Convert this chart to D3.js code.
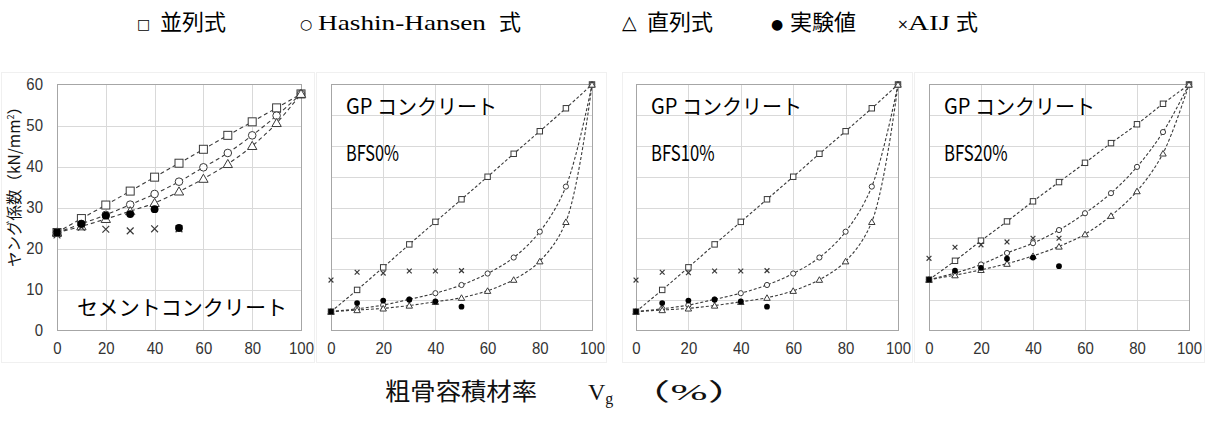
<!DOCTYPE html>
<html>
<head>
<meta charset="utf-8">
<script src="https://cdn.jsdelivr.net/npm/d3@7"></script>
<style>
  body { margin: 0; background: #fff; }
</style>
</head>
<body>
<svg id="drawing_region"></svg>
<script>
const width = 1209;
const height = 426;

// x values (粗骨容積材率 %)
const vg = [0, 10, 20, 30, 40, 50, 60, 70, 80, 90, 100];
const vgExp = [0, 10, 20, 30, 40, 50];
const xTicks = [0, 20, 40, 60, 80, 100];
const yTicks = [0, 10, 20, 30, 40, 50, 60];

// セメントコンクリート
const cementParallel = [23.9, 27.3, 30.6, 34.0, 37.4, 40.8, 44.2, 47.6, 50.9, 54.3, 57.7];
const cementHH = [23.9, 26.0, 28.2, 30.7, 33.3, 36.3, 39.8, 43.3, 47.6, 52.4, 57.7];
const cementSeries = [23.9, 25.4, 27.2, 29.1, 31.1, 33.9, 37.0, 40.6, 45.0, 50.6, 57.7];
const cementExp = [23.9, 26.0, 28.0, 28.4, 29.6, 25.0];
const cementAIJ = [23.3, 25.2, 24.7, 24.3, 24.8, 24.8];

// GP BFS0%
const bfs0Parallel = [4.6, 9.9, 15.4, 21.0, 26.5, 32.0, 37.5, 43.1, 48.6, 54.2, 60.0];
const bfs0HH = [4.6, 5.3, 6.2, 7.6, 9.1, 11.1, 13.9, 17.8, 24.1, 35.1, 60.0];
const bfs0Series = [4.6, 5.0, 5.4, 6.1, 7.0, 8.0, 9.7, 12.4, 16.9, 26.5, 60.0];
const bfs0Exp = [4.6, 6.7, 7.3, 7.5, 7.1, 5.8];
const bfs0AIJ = [12.3, 14.2, 14.0, 14.5, 14.5, 14.6];

// GP BFS10%
const bfs10Parallel = [4.6, 9.9, 15.4, 21.0, 26.5, 32.0, 37.5, 43.1, 48.6, 54.2, 60.0];
const bfs10HH = [4.6, 5.3, 6.2, 7.6, 9.1, 11.1, 13.9, 17.8, 24.1, 35.1, 60.0];
const bfs10Series = [4.6, 5.0, 5.4, 6.1, 7.0, 8.0, 9.7, 12.4, 16.9, 26.5, 60.0];
const bfs10Exp = [4.6, 6.7, 7.3, 7.5, 7.1, 5.8];
const bfs10AIJ = [12.3, 14.2, 14.1, 14.5, 14.5, 14.6];

// GP BFS20%
const bfs20Parallel = [12.4, 17.0, 21.9, 26.6, 31.5, 36.2, 40.9, 45.7, 50.3, 55.3, 60.0];
const bfs20HH = [12.4, 14.0, 16.1, 18.9, 21.3, 24.5, 28.6, 33.5, 39.9, 48.4, 60.0];
const bfs20Series = [12.4, 13.5, 14.8, 16.3, 18.2, 20.5, 23.5, 28.0, 34.0, 43.2, 60.0];
const bfs20Exp = [12.4, 14.6, 15.3, 17.5, 17.8, 15.7];
const bfs20AIJ = [17.6, 20.3, 20.9, 21.6, 22.5, 22.5];

const legendSymbols = ["□", "○", "△", "●", "×"];
const legendLabels = ["並列式", "Hashin-Hansen", "直列式", "実験値", "AIJ"];

const panels = [
    {left: 57, right: 301, box: [1, 315], big: true, yLabels: true,
     title: "セメントコンクリート", sub: null,
     parallel: cementParallel, hh: cementHH, series: cementSeries, exp: cementExp, aij: cementAIJ},
    {left: 331, right: 592, box: [316, 607], big: false, yLabels: false,
     title: "GP コンクリート", sub: "BFS0%",
     parallel: bfs0Parallel, hh: bfs0HH, series: bfs0Series, exp: bfs0Exp, aij: bfs0AIJ},
    {left: 636, right: 898, box: [622, 913], big: false, yLabels: false,
     title: "GP コンクリート", sub: "BFS10%",
     parallel: bfs10Parallel, hh: bfs10HH, series: bfs10Series, exp: bfs10Exp, aij: bfs10AIJ},
    {left: 929, right: 1189, box: [914, 1205], big: false, yLabels: false,
     title: "GP コンクリート", sub: "BFS20%",
     parallel: bfs20Parallel, hh: bfs20HH, series: bfs20Series, exp: bfs20Exp, aij: bfs20AIJ}
];

const top_y = 84.5;
const bottom_y = 330.5;
const ink = "#3a3a3a";

const svg = d3.select('#drawing_region')
    .attr('width', width)
    .attr('height', height);

const sansJP = "'Noto Sans CJK JP', sans-serif";
const serifJP = "'Liberation Serif', 'DejaVu Serif', 'Noto Sans CJK JP', serif";
const tickFont = "'Liberation Sans', Arial, sans-serif";
const tickScale = 0.88;

panels.forEach(p => {
    const g = svg.append("g");

    const xscale = d3.scaleLinear().domain([0, 100]).range([p.left, p.right]);
    const yscale = d3.scaleLinear().domain([0, 60]).range([bottom_y, top_y]);

    // faint chart area frame
    g.append("rect")
        .attr("x", p.box[0] + 0.5)
        .attr("y", 72.5)
        .attr("width", p.box[1] - p.box[0] - 1)
        .attr("height", 290)
        .attr("fill", "none")
        .attr("stroke", "#f0f0f0");

    // gridlines
    const hGrid = p.big ? yTicks : d3.range(0, 60.01, 7.5);
    g.selectAll("line.hgrid")
        .data(hGrid.slice(1, -1))
        .join("line")
        .attr("class", "hgrid")
        .attr("x1", p.left).attr("x2", p.right)
        .attr("y1", d => Math.round(yscale(d)) + 0.5)
        .attr("y2", d => Math.round(yscale(d)) + 0.5)
        .attr("stroke", "#d9d9d9");

    g.selectAll("line.vgrid")
        .data(xTicks.slice(1, -1))
        .join("line")
        .attr("class", "vgrid")
        .attr("x1", d => Math.round(xscale(d)) + 0.5)
        .attr("x2", d => Math.round(xscale(d)) + 0.5)
        .attr("y1", top_y).attr("y2", bottom_y)
        .attr("stroke", "#d9d9d9");

    g.append("rect")
        .attr("x", p.left + 0.5)
        .attr("y", top_y)
        .attr("width", p.right - p.left)
        .attr("height", bottom_y - top_y)
        .attr("fill", "none")
        .attr("stroke", "#a6a6a6");

    // x axis labels
    const xa = g.append("g")
        .attr("transform", `translate(0,${bottom_y})`)
        .call(d3.axisBottom(xscale).tickValues(xTicks).tickSize(0).tickPadding(11));
    xa.select(".domain").remove();
    xa.selectAll("text")
        .attr("font-family", tickFont)
        .attr("font-size", 17)
        .attr("fill", "#333")
        .attr("transform", `scale(${tickScale},1)`);

    if (p.yLabels) {
        const ya = g.append("g")
            .attr("transform", `translate(${p.left},0)`)
            .call(d3.axisLeft(yscale).tickValues(yTicks).tickSize(0).tickPadding(14));
        ya.select(".domain").remove();
        ya.selectAll("text")
            .attr("font-family", tickFont)
            .attr("font-size", 17)
            .attr("fill", "#333")
            .attr("transform", `scale(${tickScale},1)`)
            .attr("x", -14 / tickScale);
    }

    // dashed curves
    const line = d3.line()
        .x((d, i) => xscale(vg[i]))
        .y(d => yscale(d))
        .curve(d3.curveCatmullRom.alpha(0.5));

    [p.parallel, p.hh, p.series].forEach(s => {
        g.append("path")
            .attr("d", line(s))
            .attr("fill", "none")
            .attr("stroke", ink)
            .attr("stroke-width", 1.1)
            .attr("stroke-dasharray", p.big ? "4,3" : "3,2");
    });

    const k = p.big ? 1 : 0.68;

    // 並列式 squares
    g.selectAll("rect.par")
        .data(p.parallel)
        .join("rect")
        .attr("class", "par")
        .attr("x", (d, i) => xscale(vg[i]) - 4 * k)
        .attr("y", d => yscale(d) - 4 * k)
        .attr("width", 8 * k)
        .attr("height", 8 * k)
        .attr("fill", "#fff")
        .attr("stroke", ink)
        .attr("stroke-width", 1);

    // Hashin-Hansen circles
    g.selectAll("circle.hh")
        .data(p.hh)
        .join("circle")
        .attr("class", "hh")
        .attr("cx", (d, i) => xscale(vg[i]))
        .attr("cy", d => yscale(d))
        .attr("r", 3.8 * k)
        .attr("fill", "#fff")
        .attr("stroke", ink);

    // 直列式 triangles
    const tri = d3.symbol().type(d3.symbolTriangle).size(p.big ? 38 : 18);
    g.selectAll("path.ser")
        .data(p.series)
        .join("path")
        .attr("class", "ser")
        .attr("d", tri)
        .attr("transform", (d, i) => `translate(${xscale(vg[i])},${yscale(d) + 0.8})`)
        .attr("fill", "#fff")
        .attr("stroke", ink);

    // AIJ crosses
    const cs = p.big ? 3.4 : 2.4;
    g.selectAll("path.aij")
        .data(p.aij)
        .join("path")
        .attr("class", "aij")
        .attr("d", (d, i) => {
            const cx = xscale(vgExp[i]), cy = yscale(d);
            return `M${cx - cs},${cy - cs}L${cx + cs},${cy + cs}M${cx - cs},${cy + cs}L${cx + cs},${cy - cs}`;
        })
        .attr("stroke", ink)
        .attr("stroke-width", 1.2);

    // 実験値
    const dot = d3.symbol()
        .type((d, i) => i === 0 ? d3.symbolSquare : d3.symbolCircle)
        .size(p.big ? 48 : 26);
    g.selectAll("path.exp")
        .data(p.exp)
        .join("path")
        .attr("class", "exp")
        .attr("d", (d, i) => dot(d, i))
        .attr("transform", (d, i) => `translate(${xscale(vgExp[i])},${yscale(d)})`)
        .attr("fill", "#000");

    // panel texts
    if (p.big) {
        g.append("text")
            .attr("x", 77)
            .attr("y", 315)
            .attr("font-family", sansJP)
            .attr("font-size", 21)
            .attr("textLength", 210)
            .attr("lengthAdjust", "spacingAndGlyphs")
            .text(p.title);
    } else {
        g.append("text")
            .attr("x", p.left + 15)
            .attr("y", 114)
            .attr("font-family", sansJP)
            .attr("font-size", 21)
            .attr("textLength", 151)
            .attr("lengthAdjust", "spacingAndGlyphs")
            .text(p.title);
        g.append("text")
            .attr("x", p.left + 15)
            .attr("y", 161)
            .attr("font-family", sansJP)
            .attr("font-size", 22)
            .attr("textLength", p.sub.length * 10.6)
            .attr("lengthAdjust", "spacingAndGlyphs")
            .text(p.sub);
    }
});

// y axis title
svg.append("text")
    .attr("transform", "translate(20,183) rotate(-90)")
    .attr("text-anchor", "middle")
    .attr("font-family", sansJP)
    .attr("font-size", 15.5)
    .attr("fill", "#111")
    .call(t => {
        t.append("tspan").text("ヤング係数（kN/mm");
        t.append("tspan").attr("font-size", 9).attr("dy", -6).text("2");
        t.append("tspan").attr("dy", 6).text("）");
    });

// legend
const legendSymX = [137, 300, 622, 771, 897];
const legendLabX = [160, 318, 647, 790, 908];
const legendSuffixX = [null, 499, null, null, 956];
legendLabels.forEach((lab, i) => {
    svg.append("text")
        .attr("x", legendSymX[i])
        .attr("y", 29)
        .attr("font-family", "'DejaVu Sans', sans-serif")
        .attr("font-size", i === 2 ? 19 : 14)
        .text(legendSymbols[i]);
    const t = svg.append("text")
        .attr("x", legendLabX[i])
        .attr("y", 30)
        .attr("font-family", serifJP)
        .attr("font-size", 22)
        .attr("fill", "#000")
        .text(lab);
    if (i === 1) t.attr("textLength", 168).attr("lengthAdjust", "spacingAndGlyphs");
    if (i === 4) t.attr("textLength", 42).attr("lengthAdjust", "spacingAndGlyphs");
    if (legendSuffixX[i] !== null) {
        svg.append("text")
            .attr("x", legendSuffixX[i])
            .attr("y", 30)
            .attr("font-family", serifJP)
            .attr("font-size", 22)
            .text("式");
    }
});

// x axis title
const xt = svg.append("g").attr("font-family", serifJP).attr("font-size", 24).attr("fill", "#111");
xt.append("text").attr("x", 385).attr("y", 400)
    .attr("textLength", 152).attr("lengthAdjust", "spacingAndGlyphs")
    .text("粗骨容積材率");
xt.append("text").attr("x", 588).attr("y", 400)
    .call(t => {
        t.append("tspan").text("V");
        t.append("tspan").attr("font-size", 16).attr("dy", 4).text("g");
    });
xt.append("text").attr("x", 626).attr("y", 400)
    .attr("textLength", 126).attr("lengthAdjust", "spacingAndGlyphs")
    .text("（%）");
</script>
</body>
</html>
